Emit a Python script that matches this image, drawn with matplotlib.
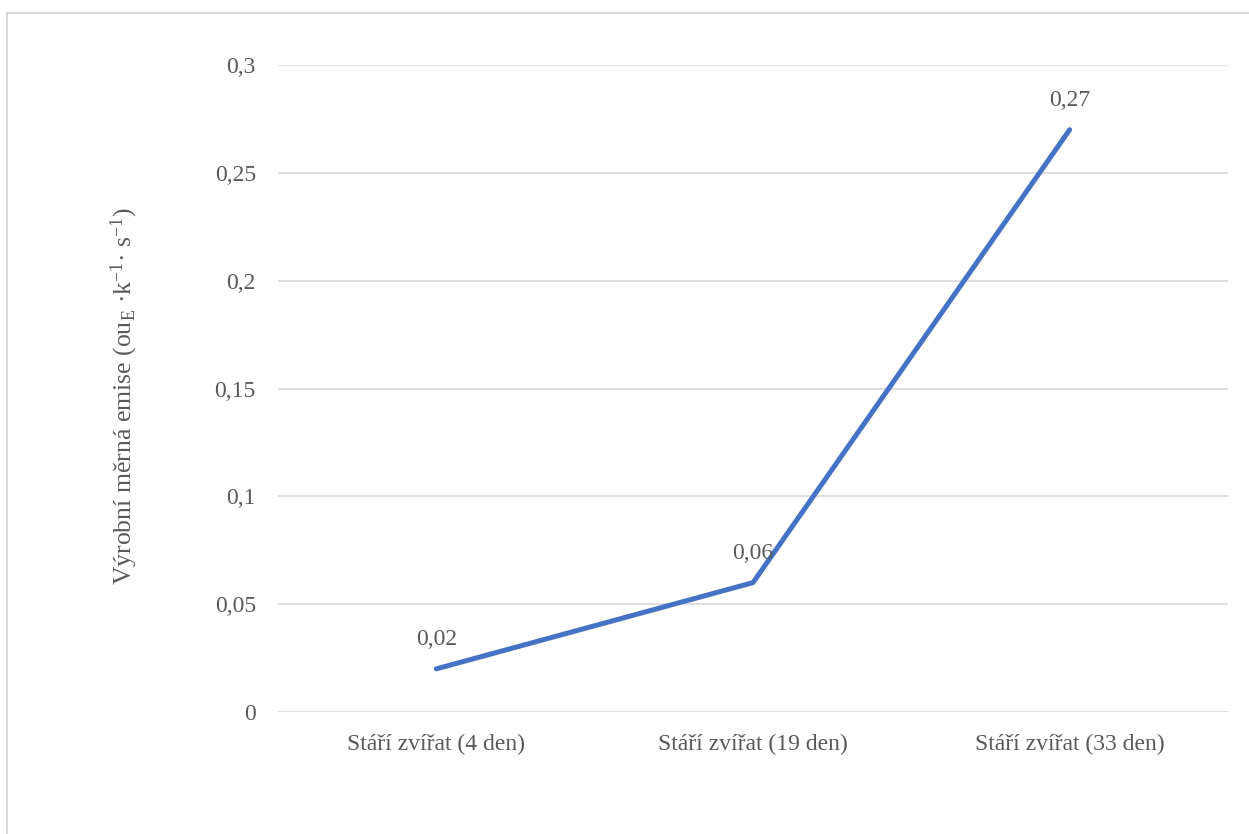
import matplotlib.pyplot as plt
from matplotlib.patches import Rectangle

# Data
kategorie = ["Stáří zvířat (4 den)", "Stáří zvířat (19 den)", "Stáří zvířat (33 den)"]
hodnoty = [0.02, 0.06, 0.27]
popisky = ["0,02", "0,06", "0,27"]
y_ticks = [0, 0.05, 0.1, 0.15, 0.2, 0.25, 0.3]
y_tick_labels = ["0", "0,05", "0,1", "0,15", "0,2", "0,25", "0,3"]

plt.rcParams["font.family"] = ["Liberation Serif", "DejaVu Serif"]
plt.rcParams["mathtext.fontset"] = "custom"
plt.rcParams["mathtext.rm"] = "Liberation Serif"

seda = "#595959"

fig = plt.figure(figsize=(12.49, 8.34), dpi=100)
# ramecek grafu (jen horni a levy okraj je videt)
fig.patches.append(Rectangle((7 / 1249, -0.1), 1.2, (834 - 13) / 834 + 0.1,
                             transform=fig.transFigure, fill=False,
                             edgecolor="#D9D9D9", linewidth=1.5))

ax = fig.add_axes([278 / 1249, 122 / 834, 950 / 1249, 647 / 834])
x = list(range(len(kategorie)))
ax.plot(x, hodnoty, color="#4472C4", linewidth=3.6, solid_capstyle="round", clip_on=False)

for xi, yi, t in zip(x, hodnoty, popisky):
    ax.annotate(t, (xi, yi), xytext=(0, 21), textcoords="offset points",
                ha="center", va="center", fontsize=17, color=seda)

ax.set_xlim(-0.5, 2.5)
ax.set_ylim(0, 0.3)
ax.set_yticks(y_ticks)
ax.set_yticklabels(y_tick_labels)
ax.set_xticks(x)
ax.set_xticklabels(kategorie)
ax.tick_params(axis="both", length=0, labelsize=17, labelcolor=seda)
ax.tick_params(axis="y", pad=16)
ax.tick_params(axis="x", pad=16)
ax.grid(axis="y", color="#D9D9D9", linewidth=1.2)
ax.set_axisbelow(True)
for s in ax.spines.values():
    s.set_visible(False)

ax.set_ylabel(r"Výrobní měrná emise (ou$\mathregular{_E}$ ·k$\mathregular{^{-1}}$· s$\mathregular{^{-1}}$)",
              fontsize=18.5, color=seda)
ax.yaxis.set_label_coords(-0.145, 0.488)

fig.savefig("out.png", dpi=100)
